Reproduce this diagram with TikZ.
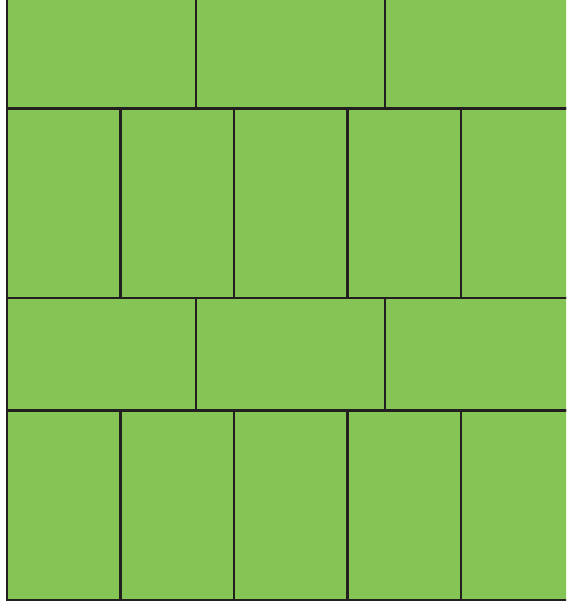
\documentclass[tikz,border=0pt]{standalone}
\usepackage{tikz}
\definecolor{tilegreen}{RGB}{132,197,85}
\definecolor{joint}{RGB}{35,31,32}
\tikzset{tile/.style={fill=tilegreen,draw=joint,line width=2.8pt}}
\begin{document}
\begin{tikzpicture}[x=1pt,y=-1pt]
\useasboundingbox (0,0) rectangle (566,608);
\begin{scope}
\clip (0,0) rectangle (566,608);
% lying tiles
\foreach \y in {-4.5,297.5}
  \foreach \i in {0,1,2}
    \draw[tile] (7+189*\i,\y) rectangle ++(189,113);
% standing tiles
\foreach \y in {108.5,410.5}
  \foreach \i in {0,...,4}
    \draw[tile] (7+113.5*\i,\y) rectangle ++(113.5,189.5);
\end{scope}
\end{tikzpicture}
\end{document}
